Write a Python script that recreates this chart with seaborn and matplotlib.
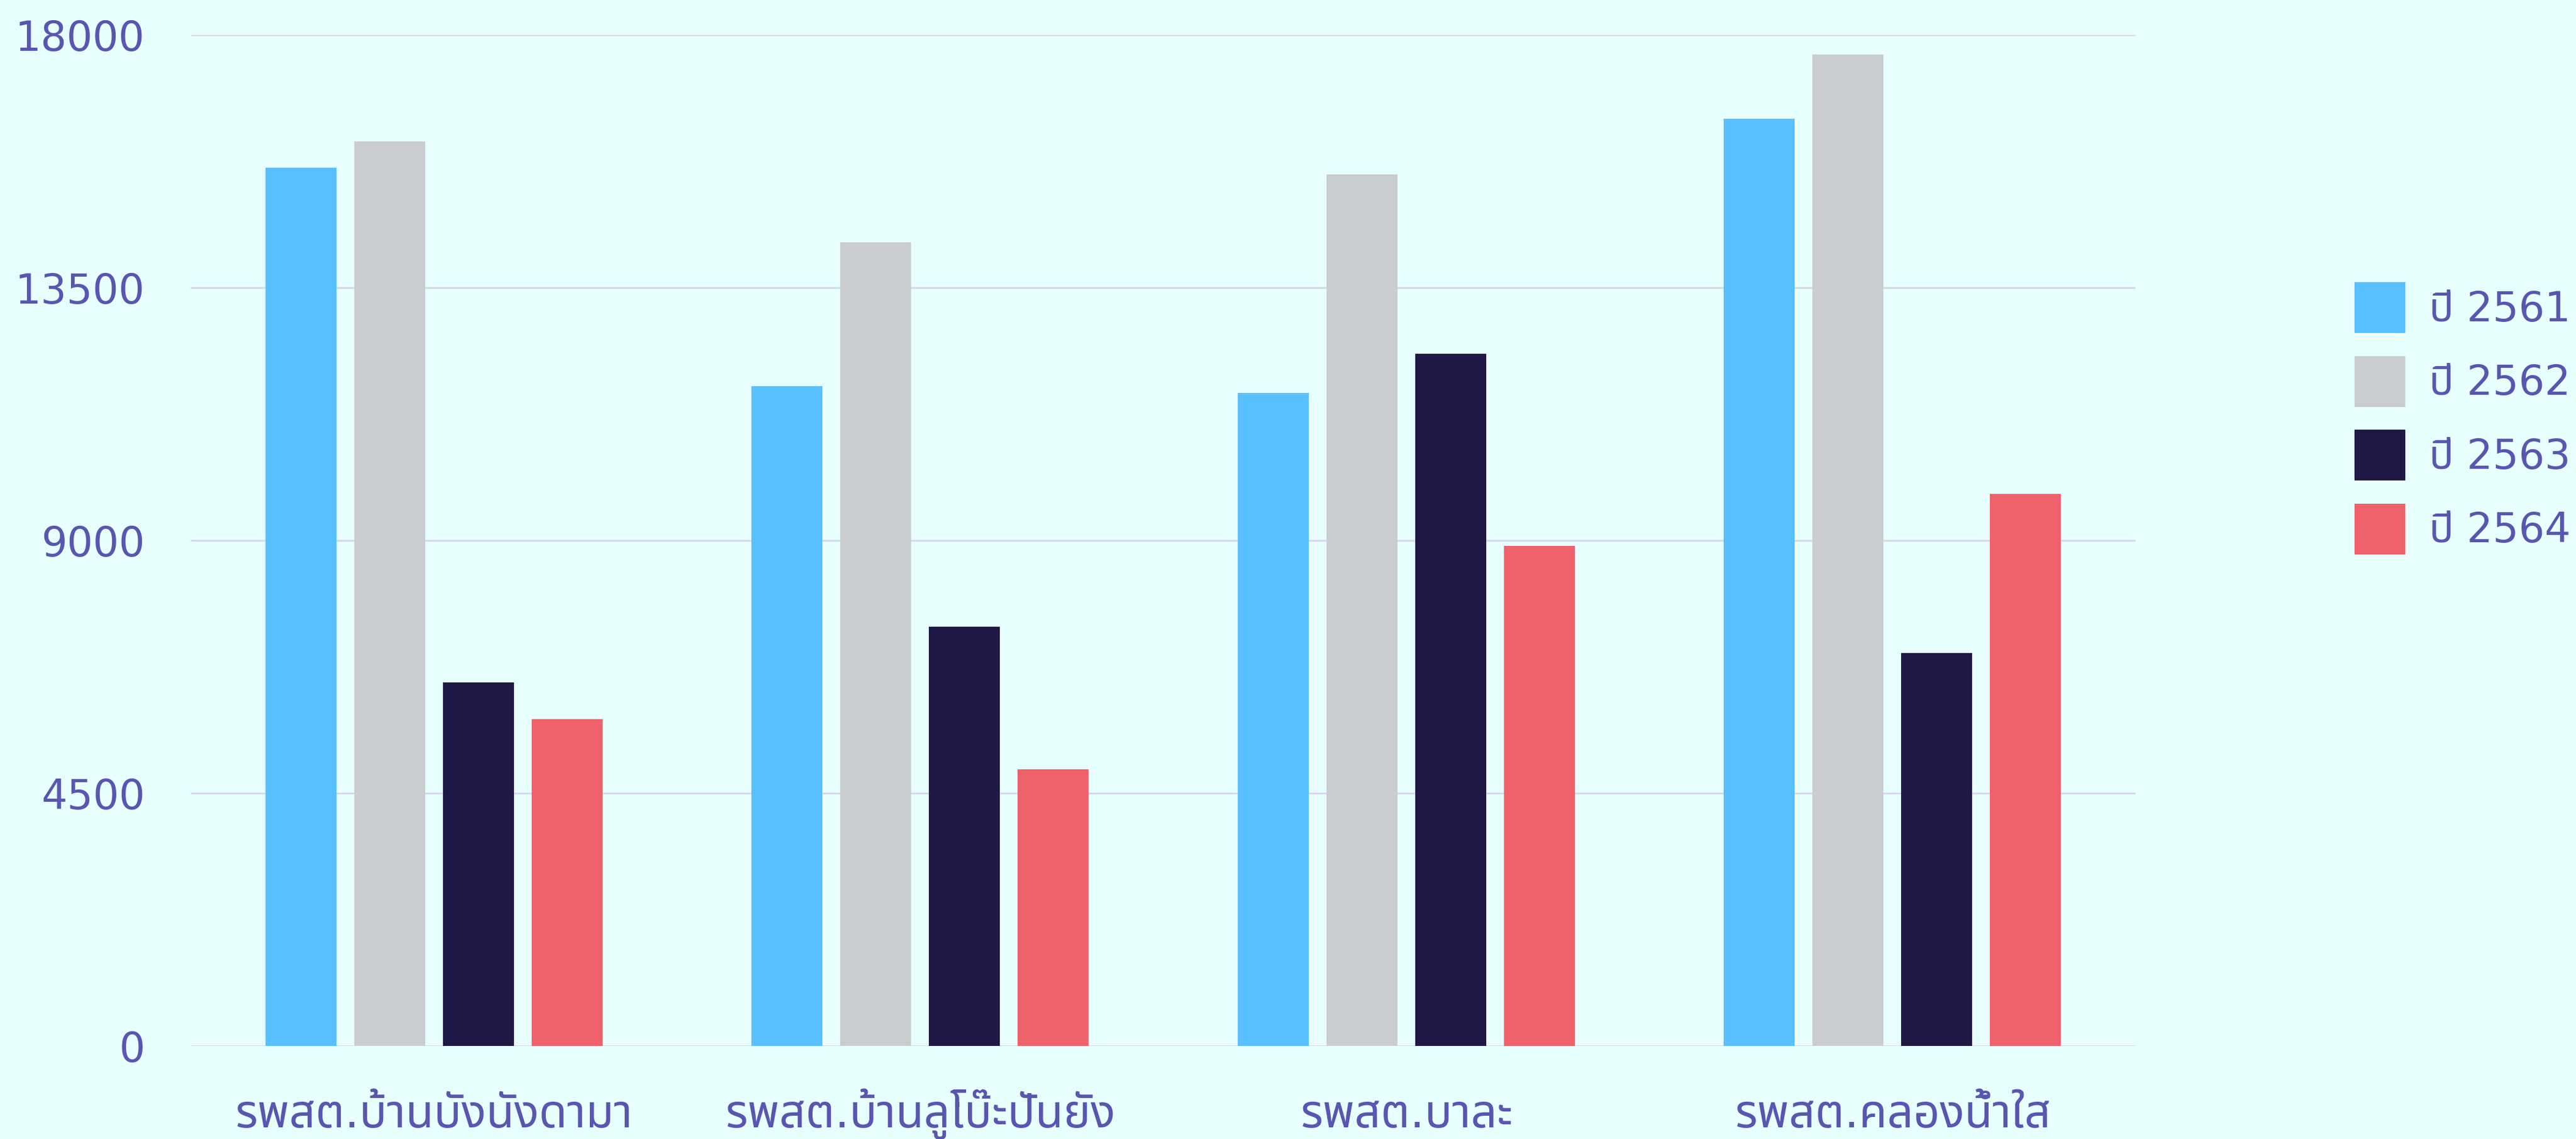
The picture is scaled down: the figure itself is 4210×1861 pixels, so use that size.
import matplotlib
matplotlib.use("Agg")
import matplotlib.pyplot as plt
from matplotlib.patches import Patch
import seaborn as sns
import pandas as pd

# ---- data ----
categories = ['รพสต.บ้านบังนังดามา', 'รพสต.บ้านลูโบ๊ะปันยัง', 'รพสต.บาละ', 'รพสต.คลองน้ำใส']
series_names = ['ปี 2561', 'ปี 2562', 'ปี 2563', 'ปี 2564']
y2561 = [15630, 11740, 11620, 16510]
y2562 = [16100, 14310, 15510, 17650]
y2563 = [6470, 7460, 12320, 7000]
y2564 = [5820, 4920, 8900, 9830]
y_ticks = [0, 4500, 9000, 13500, 18000]

colors = ['#58C0FF', '#C9CDD0', '#1E1846', '#EF626C']
bg = '#E8FFFF'
text_color = '#5856B0'
grid_color = '#D6DAEC'

sns.set_theme(style='white')
plt.rcParams['font.family'] = ['DejaVu Sans', 'Noto Sans Thai', 'Loma']

rows = []
for name, vals in zip(series_names, [y2561, y2562, y2563, y2564]):
    for c, v in zip(categories, vals):
        rows.append({'cat': c, 'year': name, 'value': v})
df = pd.DataFrame(rows)

fig = plt.figure(figsize=(21.05, 9.305), dpi=200, facecolor=bg)
ax = fig.add_axes([0.0741, 0.0817, 0.829 - 0.0741, 0.9694 - 0.0817])
ax.set_facecolor(bg)

sns.barplot(data=df, x='cat', y='value', hue='year', order=categories,
            hue_order=series_names, palette=colors, saturation=1,
            width=0.73, gap=0.2, linewidth=0, ax=ax, legend=False)

ax.set_ylim(0, 18000)
ax.set_yticks(y_ticks)
ax.set_yticklabels([str(t) for t in y_ticks])
ax.set_xlim(-0.5, len(categories) - 0.5)
ax.yaxis.grid(True, color=grid_color, linewidth=1.1)
ax.set_axisbelow(True)
for s in ax.spines.values():
    s.set_visible(False)
ax.tick_params(axis='both', length=0, colors=text_color)
ax.tick_params(axis='y', pad=27, labelsize=24)
ax.tick_params(axis='x', pad=48, labelsize=27)
for lbl in ax.get_xticklabels():
    lbl.set_verticalalignment('baseline')
ax.set_xlabel('')
ax.set_ylabel('')

handles = [Patch(facecolor=c, edgecolor='none') for c in colors]
fig.legend(handles, series_names, loc='center left', bbox_to_anchor=(0.914, 0.6327),
           frameon=False, fontsize=24, labelcolor=text_color, handlelength=1.25,
           handleheight=1.54, handletextpad=0.58, labelspacing=0.56, borderpad=0,
           borderaxespad=0)

fig.savefig('out.png', dpi=200, facecolor=bg)
